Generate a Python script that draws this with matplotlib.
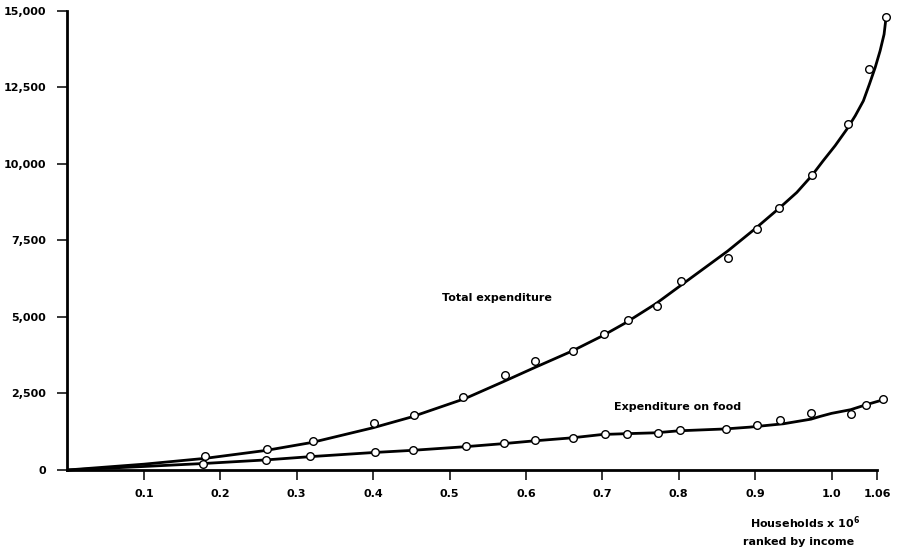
import numpy as np
import matplotlib.pyplot as plt

# observed points (households x 10^6, expenditure)
total_x = [0.180, 0.261, 0.321, 0.401, 0.453, 0.518, 0.573, 0.612, 0.662, 0.702,
           0.734, 0.772, 0.803, 0.864, 0.902, 0.931, 0.974, 1.022, 1.0487, 1.071]
total_y = [456, 675, 945, 1542, 1783, 2370, 3107, 3553, 3902, 4444,
           4890, 5346, 6161, 6921, 7857, 8564, 9640, 11315, 13090, 14800]

food_x = [0.178, 0.260, 0.318, 0.402, 0.452, 0.522, 0.571, 0.612, 0.661, 0.703,
          0.732, 0.773, 0.802, 0.862, 0.903, 0.932, 0.973, 1.025, 1.045, 1.067]
food_y = [205, 326, 456, 587, 652, 772, 870, 968, 1053, 1174,
          1183, 1216, 1294, 1346, 1467, 1630, 1848, 1816, 2110, 2305]

# fitted curves
total_cx = [0, 0.1, 0.18, 0.26, 0.32, 0.40, 0.45, 0.52, 0.57, 0.61, 0.66, 0.70,
            0.73, 0.77, 0.80, 0.864, 0.90, 0.9326, 0.9545, 0.974, 0.989, 1.0046,
            1.020, 1.031, 1.0416, 1.0495, 1.057, 1.0635, 1.0687, 1.071]
total_cy = [0, 190, 380, 640, 900, 1380, 1730, 2330, 2880, 3330, 3880, 4380,
            4800, 5430, 5980, 7150, 7880, 8575, 9065, 9610, 10100, 10590,
            11130, 11570, 12055, 12600, 13140, 13690, 14230, 14720]

food_cx = [0, 0.1, 0.18, 0.26, 0.32, 0.40, 0.45, 0.52, 0.57, 0.61, 0.66, 0.70,
           0.73, 0.77, 0.80, 0.86, 0.893, 0.937, 0.973, 0.985, 1.0, 1.025, 1.045, 1.067]
food_cy = [0, 115, 215, 330, 440, 570, 640, 760, 860, 950, 1050, 1160,
           1185, 1215, 1280, 1340, 1400, 1510, 1660, 1750, 1850, 1970, 2130, 2290]

xticks = [0.1, 0.2, 0.3, 0.4, 0.5, 0.6, 0.7, 0.8, 0.9, 1.0, 1.06]
xlabels = ['0.1', '0.2', '0.3', '0.4', '0.5', '0.6', '0.7', '0.8', '0.9', '1.0', '1.06']
yticks = [0, 2500, 5000, 7500, 10000, 12500, 15000]
ylabels = ['0', '2,500', '5,000', '7,500', '10,000', '12,500', '15,000']

plt.rcParams['font.family'] = ['DejaVu Sans']
plt.rcParams['font.weight'] = 'bold'

fig = plt.figure(figsize=(9.07, 5.51), dpi=100)
ax = fig.add_axes([0.0744, 0.147, 0.893, 0.8336])

for cx, cy in [(total_cx, total_cy), (food_cx, food_cy)]:
    ax.plot(cx, cy, color='black', lw=2.0, solid_capstyle='round',
            solid_joinstyle='round', clip_on=False, zorder=2)
for px, py in [(total_x, total_y), (food_x, food_y)]:
    ax.plot(px, py, 'o', ms=5.5, mfc='white', mec='black', mew=1.0,
            clip_on=False, zorder=3)

ax.set_xlim(0, 1.06)
ax.set_ylim(0, 15000)
ax.set_xticks(xticks)
ax.set_xticklabels(xlabels)
ax.set_yticks(yticks)
ax.set_yticklabels(ylabels)
ax.tick_params(axis='both', direction='out', length=7.5, width=1.1,
               labelsize=8, color='black')
ax.tick_params(axis='x', pad=6)
ax.tick_params(axis='y', pad=8)

for s in ['top', 'right']:
    ax.spines[s].set_visible(False)
for s in ['left', 'bottom']:
    ax.spines[s].set_linewidth(2.0)

ax.text(0.562, 5630, 'Total expenditure', fontsize=8, ha='center', va='center')
ax.text(0.799, 2045, 'Expenditure on food', fontsize=8, ha='center', va='center')

fig.text(805 / 907, 1 - 523 / 551, 'Households x 10$^6$', fontsize=8,
         ha='center', va='center')
fig.text(799 / 907, 1 - 542 / 551, 'ranked by income', fontsize=8,
         ha='center', va='center')

fig.savefig('out.png', dpi=100)
